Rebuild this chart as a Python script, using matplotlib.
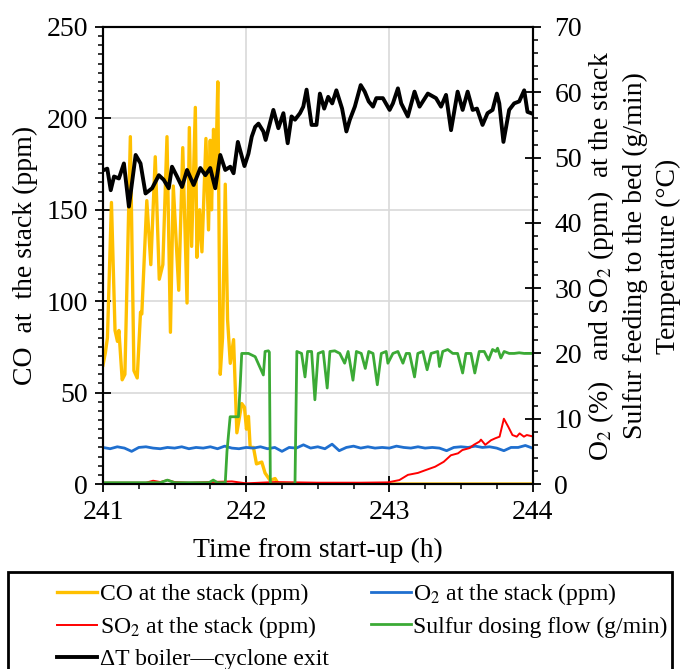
import numpy as np
import matplotlib
matplotlib.use('Agg')
import matplotlib.pyplot as plt
from matplotlib.patches import Rectangle
from matplotlib.ticker import MultipleLocator

plt.rcParams['font.family'] = 'Liberation Serif'
plt.rcParams['mathtext.fontset'] = 'stix'

# CO at the stack (ppm), left axis
co_t = [241.000, 241.017, 241.031, 241.059, 241.084, 241.101, 241.111, 241.134, 241.153, 241.191,
        241.216, 241.239, 241.262, 241.271, 241.306, 241.334, 241.365, 241.393, 241.418, 241.447,
        241.471, 241.491, 241.529, 241.557, 241.587, 241.603, 241.619, 241.645, 241.656, 241.675,
        241.691, 241.719, 241.737, 241.749, 241.758, 241.772, 241.786, 241.802, 241.819, 241.835,
        241.854, 241.870, 241.889, 241.912, 241.935, 241.969, 241.988, 242.002, 242.016, 242.028,
        242.051, 242.072, 242.109, 242.132, 242.167, 242.202, 242.225, 244.000]
co_v = [65, 72, 80, 154, 84, 78, 84, 57, 60, 190,
        62, 58, 94, 93, 155, 120, 179, 112, 120, 190,
        83, 163, 106, 184, 99, 195, 130, 206, 124, 150,
        127, 189, 139, 188, 150, 194, 165, 220, 60, 80,
        164, 90, 66, 79, 28, 44, 42, 30, 37, 20,
        20, 11, 12, 6, 2, 3, 0, 0]

# O2 at the stack, right axis
o2_t = np.round(np.arange(241.0, 244.001, 0.05), 2)
o2_v = [5.6, 5.4, 5.7, 5.5, 5.0, 5.6, 5.7, 5.5, 5.4, 5.6,
        5.5, 5.7, 5.4, 5.6, 5.5, 5.7, 5.4, 5.8, 5.5, 5.4,
        5.6, 5.5, 5.7, 5.4, 5.6, 5.0, 5.6, 5.5, 6.0, 5.5,
        5.7, 5.4, 6.1, 5.1, 5.6, 5.8, 5.5, 5.7, 5.5, 5.6,
        5.5, 5.8, 5.6, 5.5, 5.7, 5.5, 5.6, 5.5, 5.1, 5.6,
        5.7, 5.6, 5.8, 5.6, 5.7, 5.5, 5.1, 5.6, 5.6, 5.9, 5.5]

# SO2 at the stack, right axis
so2_t = [241.00, 241.30, 241.35, 241.40, 241.45, 241.50, 241.60, 241.75, 241.90, 242.00,
         242.20, 242.50, 242.80, 242.99, 243.07, 243.13, 243.20, 243.25, 243.32, 243.38,
         243.43, 243.48, 243.51, 243.56, 243.59, 243.63, 243.64, 243.67, 243.71, 243.74,
         243.77, 243.80, 243.83, 243.86, 243.89, 243.91, 243.94, 243.96, 244.00]
so2_v = [0.2, 0.2, 0.5, 0.3, 0.6, 0.3, 0.2, 0.3, 0.4, 0.1,
         0.3, 0.2, 0.2, 0.25, 0.6, 1.4, 1.7, 2.1, 2.65, 3.4,
         4.4, 4.7, 5.2, 5.5, 6.0, 6.5, 6.8, 6.0, 6.7, 7.0,
         7.25, 10.0, 8.8, 7.5, 7.25, 7.75, 7.25, 7.5, 7.3]

# Sulfur dosing flow (g/min), right axis
s_t = [241.000, 241.400, 241.450, 241.500, 241.740, 241.770, 241.800, 241.854, 241.866, 241.888,
       241.946, 241.958, 241.969, 242.016, 242.063, 242.120, 242.132, 242.155, 242.162, 242.169,
       242.341, 242.354, 242.387, 242.411, 242.429, 242.457, 242.480, 242.503, 242.538, 242.566,
       242.585, 242.619, 242.654, 242.688, 242.712, 242.746, 242.770, 242.804, 242.832, 242.856,
       242.886, 242.916, 242.944, 242.978, 242.990, 243.025, 243.060, 243.095, 243.118, 243.141,
       243.176, 243.199, 243.234, 243.264, 243.292, 243.338, 243.350, 243.373, 243.408, 243.443,
       243.477, 243.512, 243.535, 243.570, 243.597, 243.628, 243.663, 243.693, 243.721, 243.744,
       243.756, 243.779, 243.802, 243.837, 243.872, 243.907, 243.942, 243.976, 244.000]
s_v = [0.2, 0.2, 0.6, 0.2, 0.2, 0.6, 0.2, 0.2, 5.0, 10.3,
       10.3, 15.0, 20.0, 20.0, 19.5, 16.7, 20.3, 20.4, 20.2, 0.0,
       0.0, 20.3, 20.0, 16.4, 20.3, 20.3, 12.9, 20.0, 20.3, 14.7,
       20.3, 20.4, 20.0, 18.5, 20.3, 15.9, 20.3, 20.0, 17.7, 20.3,
       20.0, 15.2, 20.0, 20.3, 18.5, 20.0, 20.3, 18.5, 20.0, 20.0,
       16.4, 20.0, 20.3, 17.5, 20.0, 20.3, 18.0, 20.3, 20.6, 20.0,
       20.0, 17.0, 20.0, 20.0, 17.0, 20.3, 20.3, 19.0, 20.6, 20.3,
       20.8, 19.3, 20.3, 20.0, 20.0, 20.1, 20.0, 20.0, 20.0]

# Delta T boiler - cyclone exit (C), right axis
dt_t = [241.007, 241.030, 241.054, 241.077, 241.111, 241.146, 241.181, 241.228, 241.262, 241.297,
        241.343, 241.390, 241.424, 241.459, 241.482, 241.517, 241.552, 241.587, 241.633, 241.680,
        241.715, 241.749, 241.784, 241.819, 241.854, 241.889, 241.912, 241.942, 241.988, 242.016,
        242.039, 242.063, 242.086, 242.120, 242.136, 242.190, 242.225, 242.260, 242.290, 242.317,
        242.341, 242.376, 242.399, 242.422, 242.457, 242.491, 242.515, 242.545, 242.573, 242.601,
        242.630, 242.670, 242.700, 242.724, 242.759, 242.800, 242.828, 242.856, 242.886, 242.909,
        242.955, 243.002, 243.025, 243.060, 243.083, 243.129, 243.176, 243.211, 243.269, 243.326,
        243.361, 243.396, 243.431, 243.477, 243.512, 243.547, 243.582, 243.612, 243.651, 243.686,
        243.721, 243.751, 243.768, 243.797, 243.837, 243.872, 243.907, 243.942, 243.965, 243.990]
dt_v = [48.1, 48.3, 45.0, 47.1, 46.8, 49.1, 42.5, 50.4, 49.1, 44.5,
        45.3, 47.3, 46.6, 45.3, 48.6, 47.1, 45.5, 48.1, 45.8, 48.4,
        47.3, 48.4, 45.3, 50.4, 48.1, 48.6, 47.6, 52.4, 48.7, 50.6,
        53.2, 54.7, 55.2, 54.0, 52.7, 57.3, 54.5, 56.8, 52.2, 56.3,
        55.8, 56.8, 57.8, 60.4, 55.0, 55.0, 59.8, 57.5, 59.3, 58.3,
        60.3, 57.5, 54.0, 55.8, 57.8, 61.1, 60.1, 58.6, 57.8, 59.1,
        59.1, 57.3, 58.3, 60.6, 58.3, 56.3, 60.1, 57.8, 59.8, 59.1,
        57.8, 59.6, 54.2, 60.1, 57.3, 60.1, 57.3, 57.5, 55.0, 56.8,
        57.3, 59.8, 58.3, 52.4, 57.3, 58.3, 58.6, 60.3, 57.0, 56.8]

right_label_lines = ['O$_2$ (%)   and SO$_2$ (ppm)  at the stack',
                     'Sulfur feeding to the bed (g/min)',
                     'Temperature (°C)']

fig = plt.figure(figsize=(6.81, 6.69), dpi=100)
ax = fig.add_axes([103/681, 1-484/669, 429.5/681, 457/669])
ax2 = ax.twinx()

ax.grid(True, which='major', color='#d9d9d9', lw=1.2)
ax.set_axisbelow(True)

l_co, = ax.plot(co_t, co_v, color='#FFC000', lw=2.4, label='CO at the stack (ppm)')
l_o2, = ax2.plot(o2_t, o2_v, color='#1F6FCF', lw=2.0, label='O$_2$ at the stack (ppm)')
l_so2, = ax2.plot(so2_t, so2_v, color='#FF0000', lw=1.4, label='SO$_2$ at the stack (ppm)')
l_s, = ax2.plot(s_t, s_v, color='#3BAA35', lw=2.0, label='Sulfur dosing flow (g/min)')
l_dt, = ax2.plot(dt_t, dt_v, color='black', lw=2.8, label='ΔT boiler—cyclone exit')

ax.set_xlim(241, 244)
ax.set_ylim(0, 250)
ax2.set_ylim(0, 70)
ax.xaxis.set_major_locator(MultipleLocator(1))
ax.xaxis.set_minor_locator(MultipleLocator(0.25))
ax.yaxis.set_major_locator(MultipleLocator(50))
ax.yaxis.set_minor_locator(MultipleLocator(5))
ax2.yaxis.set_major_locator(MultipleLocator(10))
ax2.yaxis.set_minor_locator(MultipleLocator(2))

for a in (ax, ax2):
    a.tick_params(which='major', direction='inout', length=11.5, width=1.3, labelsize=20)
    a.tick_params(which='minor', direction='out', length=3.5, width=1.1)
    for sp in a.spines.values():
        sp.set_linewidth(1.5)
ax.tick_params(axis='y', which='major', pad=5)
ax.tick_params(axis='x', which='major', pad=6)
ax2.tick_params(axis='y', which='major', pad=10)

ax.set_xlabel('Time from start-up (h)', fontsize=20, labelpad=9)
ax.set_ylabel('CO  at  the stack (ppm)', fontsize=20, labelpad=6)
for xp, txt in zip([601, 635, 668], right_label_lines):
    fig.text(xp/681, 1-256/669, txt, rotation=90, ha='center', va='center', fontsize=20)

fig.patches.append(Rectangle((8/681, -0.02), 664/681, (669-572)/669 + 0.02,
                             transform=fig.transFigure, fill=False, ec='black', lw=2))
fig.legend([l_co, l_so2, l_dt, l_o2, l_s],
           [l.get_label() for l in (l_co, l_so2, l_dt, l_o2, l_s)],
           ncol=2, loc='upper left', bbox_to_anchor=(57/681, 1-581/669),
           frameon=False, fontsize=17, handlelength=1.7, handletextpad=0.1,
           labelspacing=0.38, columnspacing=1.8, borderpad=0, borderaxespad=0)

fig.savefig('out.png', dpi=100)
